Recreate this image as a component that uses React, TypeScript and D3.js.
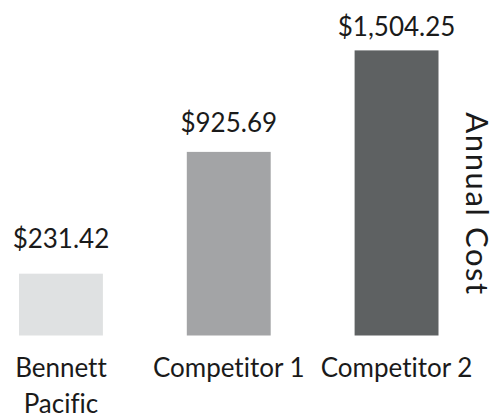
import React from "react";
import * as d3 from "d3";

const categories = ["Bennett Pacific", "Competitor 1", "Competitor 2"];
const categoryLines = [["Bennett", "Pacific"], ["Competitor 1"], ["Competitor 2"]];
const values = [231.42, 925.69, 1504.25];
const colors = ["#dfe1e2", "#a3a4a6", "#5e6162"];
const axisTitle = "Annual Cost";

const W = 498;
const H = 417;
const FONT = "Lato, 'Noto Sans', sans-serif";

export default function App() {
  const x = d3.scaleBand<string>().domain(categories).range([19, 438.5]).paddingInner(0.5).paddingOuter(0);
  const y = d3.scaleLinear().domain([-121, 1504.25]).range([335.5, 50.4]);
  const yLabel = d3.scaleLinear().domain([0, 1504.25]).range([286.5, 36]);
  const fmt = d3.format("$,.2f");

  return (
    <svg width={W} height={H} style={{ position: "absolute", left: 0, top: 0, background: "#fff", fontVariantLigatures: "none" }} fontFamily={FONT}>
      {categories.map((c, i) => (
        <g key={c}>
          <rect x={x(c)} y={y(values[i])} width={x.bandwidth()} height={y(-121) - y(values[i])} fill={colors[i]} />
          <text x={(x(c) as number) + x.bandwidth() / 2} y={yLabel(values[i])} textAnchor="middle" fontSize={26} fill="#1a1a1a">
            {fmt(values[i])}
          </text>
          {categoryLines[i].map((line, j) => (
            <text key={j} x={(x(c) as number) + x.bandwidth() / 2} y={377 + j * 35.5} textAnchor="middle" fontSize={26} fill="#1a1a1a">
              {line}
            </text>
          ))}
        </g>
      ))}
      <text transform="translate(466,204) rotate(90)" textAnchor="middle" fontSize={31} letterSpacing={1.6} fill="#1a1a1a">
        {axisTitle}
      </text>
    </svg>
  );
}
